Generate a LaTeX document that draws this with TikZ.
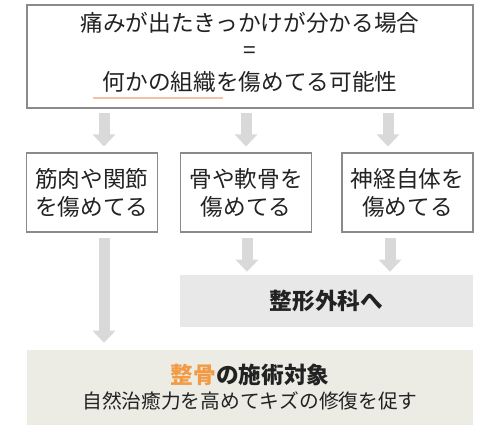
\documentclass[tikz,border=0pt]{standalone}
\usepackage{fontspec}
\setmainfont{Noto Sans CJK JP}
\usetikzlibrary{arrows.meta}
\definecolor{boxline}{HTML}{8A8A8A}
\definecolor{arrowgray}{HTML}{D9D9D9}
\definecolor{grayfill}{HTML}{E8E8E8}
\definecolor{beigefill}{HTML}{ECECE5}
\definecolor{accent}{HTML}{F39A45}
\definecolor{peach}{HTML}{F2C2A6}
\definecolor{ink}{HTML}{222222}
\begin{document}
\begin{tikzpicture}[x=0.75pt,y=-0.75pt,
  outlinebox/.style={draw=boxline,line width=0.8pt,fill=white,inner sep=0pt,align=center,text=ink},
  filledbox/.style={draw=none,inner sep=0pt,align=center,text=ink},
  bigarrow/.style={draw=arrowgray,line width=8.25pt,-{Triangle[width=16.5pt,length=9pt]}}]
\useasboundingbox (0,0) rectangle (500,426);
\fill[white] (0,0) rectangle (500,426);
% top box
\node[outlinebox,minimum width=334.5pt,minimum height=77.25pt] (top) at (250,56.5) {};
\node[text=ink,inner sep=0pt,font=\fontsize{17}{20}\selectfont] (t1) at (250,23) {痛みが出たきっかけが分かる場合};
\node[text=ink,inner sep=0pt,font=\fontsize{17}{20}\selectfont] (t2) at (250,53) {=};
\node[text=ink,inner sep=0pt,font=\fontsize{17}{20}\selectfont] (t3) at (250,82) {何かの組織を傷めてる可能性};
\draw[peach,line width=1.5pt] (93,98) -- (223,98);
% row boxes
\node[outlinebox,minimum width=98.25pt,minimum height=59.25pt,font=\fontsize{17}{21}\selectfont] (b1) at (92,192.5) {筋肉や関節\\を傷めてる};
\node[outlinebox,minimum width=98.25pt,minimum height=59.25pt,font=\fontsize{17}{21}\selectfont] (b2) at (246,192.5) {骨や軟骨を\\傷めてる};
\node[outlinebox,minimum width=98.25pt,minimum height=59.25pt,font=\fontsize{17}{21}\selectfont] (b3) at (407.5,192.5) {神経自体を\\傷めてる};
% gray box
\node[filledbox,fill=grayfill,minimum width=219.75pt,minimum height=39pt,font=\fontsize{17}{20}\selectfont\bfseries] (ortho) at (326.5,301) {整形外科へ};
% bottom box
\node[filledbox,fill=beigefill,minimum width=334.5pt,minimum height=56.25pt] (seikotsu) at (250,387.5) {};
\node[text=ink,inner sep=0pt,font=\fontsize{17}{20}\selectfont\bfseries] (s1) at (250,375) {\textcolor{accent}{整骨}の施術対象};
\node[text=ink,inner sep=0pt,font=\fontsize{14.8}{18}\selectfont] (s2) at (250,401) {自然治癒力を高めてキズの修復を促す};
% arrows
\coordinate (x1) at (104,0);
\coordinate (x2) at (246,0);
\coordinate (x3) at (388,0);
\coordinate (y2) at (247,0);
\coordinate (y3) at (390,0);
\draw[bigarrow,shorten <=3pt,shorten >=4.5pt] (top.south -| x1) -- (b1.north -| x1);
\draw[bigarrow,shorten <=3pt,shorten >=4.5pt] (top.south -| x2) -- (b2.north -| x2);
\draw[bigarrow,shorten <=3pt,shorten >=4.5pt] (top.south -| x3) -- (b3.north -| x3);
\draw[bigarrow,shorten <=3.75pt,shorten >=2.25pt] (b2.south -| y2) -- (ortho.north -| y2);
\draw[bigarrow,shorten <=3.75pt,shorten >=2.25pt] (b3.south -| y3) -- (ortho.north -| y3);
\draw[bigarrow,shorten <=3.75pt,shorten >=5.25pt] (b1.south -| x1) -- (seikotsu.north -| x1);
\end{tikzpicture}
\end{document}
